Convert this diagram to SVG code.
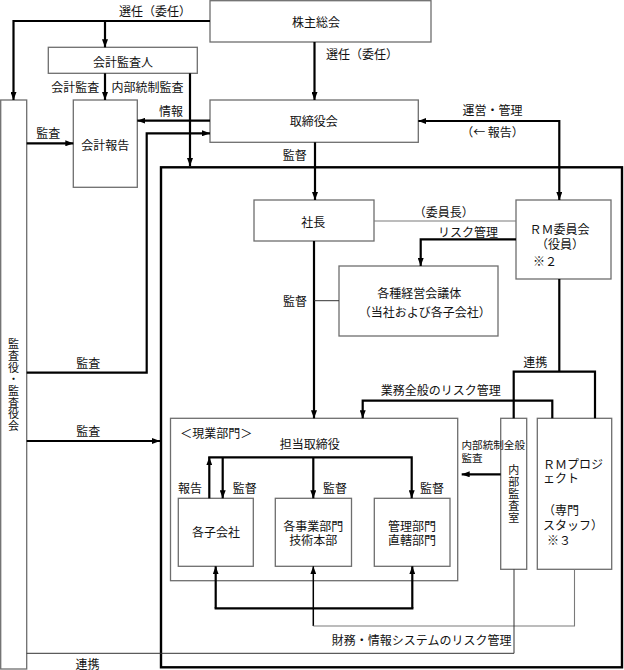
<svg xmlns="http://www.w3.org/2000/svg" width="624" height="670" viewBox="0 0 624 670">
<style>
text{font-family:"Noto Sans CJK JP","Noto Sans",sans-serif;font-size:12px;fill:#111;dominant-baseline:central}
.m{text-anchor:middle}
.s{text-anchor:start}
.v{writing-mode:vertical-rl;text-anchor:middle;font-size:11px}
.box{fill:#fff;stroke:#6e6e6e;stroke-width:1.3}
.cont{fill:none;stroke:#6e6e6e;stroke-width:1.3}
.frame{fill:none;stroke:#000;stroke-width:2.4}
.thick{fill:none;stroke:#000;stroke-width:2.2}
.thin{fill:none;stroke:#7a7a7a;stroke-width:1.1}
.thind{fill:none;stroke:#333;stroke-width:1}
</style>
<defs>
<marker id="ah" viewBox="0 0 8 6" refX="8" refY="3" markerWidth="8" markerHeight="6" markerUnits="userSpaceOnUse" orient="auto-start-reverse">
<path d="M0,0 L8,3 L0,6 z" fill="#000"/>
</marker>
</defs>
<rect width="624" height="670" fill="#fff"/>
<g id="frame"><rect class="frame" x="161" y="167.3" width="461" height="500"/></g>
<g id="n-kabunushi"><rect class="box" x="210" y="0.7" width="221" height="41.3"/><text class="m" x="316" y="21">株主総会</text></g>
<g id="n-kaikeikansanin"><rect class="box" x="48.3" y="47.3" width="149" height="26"/><text class="m" x="123" y="61">会計監査人</text></g>
<g id="n-kansayaku"><rect class="box" x="0.7" y="100" width="26" height="569"/>
<text class="v" x="13.5" y="385.3" style="letter-spacing:0.7px">監査役・監査役会</text></g>
<g id="n-kaikeihoukoku"><rect class="box" x="73.3" y="100" width="64" height="87.3"/><text class="m" x="105.3" y="144">会計報告</text></g>
<g id="n-torishimariyakukai"><rect class="box" x="210" y="100" width="208.3" height="42.3"/><text class="m" x="313.7" y="120.7">取締役会</text></g>
<g id="n-shachou"><rect class="box" x="254" y="200" width="120" height="41"/><text class="m" x="313.3" y="221">社長</text></g>
<g id="n-rm"><rect class="box" x="516" y="200" width="95" height="79"/><text class="m" x="559.5" y="228.3">ＲＭ委員会</text><text class="m" x="560" y="243.3">（役員）</text><text class="s" x="533" y="260.7">※２</text></g>
<g id="n-kaigitai"><rect class="box" x="339" y="266" width="159" height="70"/><text class="m" x="419.2" y="292.7">各種経営会議体</text><text class="m" x="424.7" y="311.7">（当社および各子会社）</text></g>
<g id="n-genbu"><rect class="cont" x="170.5" y="418.3" width="287.2" height="162.4"/><text class="m" x="216.2" y="432.7">＜現業部門＞</text><text class="m" x="309.7" y="443.3">担当取締役</text></g>
<g id="n-kogaisha"><rect class="box" x="178.3" y="498.3" width="75" height="68"/><text class="m" x="216" y="531">各子会社</text></g>
<g id="n-jigyoubu"><rect class="box" x="275.3" y="498.3" width="76.2" height="68"/><text class="m" x="313.3" y="525">各事業部門</text><text class="m" x="313.3" y="539.5">技術本部</text></g>
<g id="n-kanri"><rect class="box" x="374.3" y="498.3" width="75.7" height="68"/><text class="m" x="412" y="525">管理部門</text><text class="m" x="412" y="539.5">直轄部門</text></g>
<g id="n-naibukansa"><rect class="box" x="500.7" y="418.3" width="26" height="151"/>
<text class="v" x="513.7" y="494" style="letter-spacing:1px">内部監査室</text></g>
<g id="n-rmproject"><rect class="box" x="537.3" y="418.3" width="74.4" height="151"/>
<text class="s"><tspan x="543" y="462.5">ＲＭプロジ</tspan><tspan x="543" y="477.2">ェクト</tspan><tspan x="543" y="508.5">（専門</tspan><tspan x="543" y="523.5">スタッフ）</tspan><tspan x="547" y="538.5">※３</tspan></text></g>
<g id="connectors">
<path class="thick" d="M210,21 H13.5 V100" marker-end="url(#ah)"/>
<path class="thick" d="M105,21 V47.3" marker-end="url(#ah)"/>
<path class="thick" d="M314.5,42 V100" marker-end="url(#ah)"/>
<path class="thick" d="M105,73.3 V100" marker-end="url(#ah)"/>
<path class="thick" d="M190,73.3 V166" marker-end="url(#ah)"/>
<path class="thick" d="M210,120.7 H137.3" marker-end="url(#ah)"/>
<path class="thick" d="M26.7,143.3 H73.3" marker-end="url(#ah)"/>
<path class="thick" d="M26.7,372.7 H146.7 V133.3 H210" marker-end="url(#ah)"/>
<path class="thick" d="M26.7,441 H160" marker-end="url(#ah)"/>
<path class="thick" d="M418.3,121 H559.3 V200" marker-start="url(#ah)" marker-end="url(#ah)"/>
<path class="thick" d="M315,142.3 V200" marker-end="url(#ah)"/>
<path class="thick" d="M516,239.3 H420.7 V266" marker-end="url(#ah)"/>
<path class="thick" d="M314,241 V418.3" marker-end="url(#ah)"/>
<path class="thick" d="M559.3,279 V371.7"/>
<path class="thick" d="M513.7,418.3 V371.7 H595 V418.3"/>
<path class="thick" d="M552.3,418.3 V400.7 H362.7 V418.3" marker-end="url(#ah)"/>
<path class="thick" d="M500.7,474.3 H461.7" marker-end="url(#ah)"/>
<path class="thick" d="M209.3,498.3 V457.3" marker-end="url(#ah)"/>
<path class="thick" d="M208.2,457.3 H411.7 V498.3" marker-end="url(#ah)"/>
<path class="thick" d="M222.7,457.3 V498.3" marker-end="url(#ah)"/>
<path class="thick" d="M313.3,457.3 V498.3" marker-end="url(#ah)"/>
<path class="thick" d="M215.7,608.3 V566.3" marker-end="url(#ah)"/>
<path class="thick" d="M412.3,608.3 V566.3" marker-end="url(#ah)"/>
<path class="thick" d="M214.6,608.3 H413.4"/>
<path class="thick" style="stroke-width:1.5" d="M313.3,626 V566.3" marker-end="url(#ah)"/>
<path class="thin" d="M374,221 H516"/>
<path class="thind" d="M314,300.7 H339"/>
<path class="thin" d="M574.5,569.3 V626 H313.3"/>
<path class="thind" d="M514,569.3 V653.3 H26.7"/>
</g>
<g id="labels">
<text class="m" x="155" y="10">選任（委任）</text>
<text class="s" x="326" y="53.3">選任（委任）</text>
<text class="m" x="75.3" y="86.7">会計監査</text>
<text class="m" x="147.5" y="86.7">内部統制監査</text>
<text class="m" x="171" y="110.7">情報</text>
<text class="m" x="492.5" y="109.3">運営・管理</text>
<text class="m" x="492.5" y="131.7">（← 報告）</text>
<text class="m" x="48.3" y="132.7">監査</text>
<text class="m" x="294.7" y="154">監督</text>
<text class="m" x="443.8" y="211.7">（委員長）</text>
<text class="m" x="468" y="231">リスク管理</text>
<text class="m" x="295" y="300">監督</text>
<text class="m" x="88.3" y="362.7">監査</text>
<text class="m" x="535.3" y="361.7">連携</text>
<text class="m" x="440.8" y="389.3">業務全般のリスク管理</text>
<text class="m" x="88.3" y="430">監査</text>
<text class="s" style="font-size:10.6px"><tspan x="461.5" y="444">内部統制全般</tspan><tspan x="461.5" y="457">監査</tspan></text>
<text class="m" x="190" y="487.3">報告</text>
<text class="m" x="244.7" y="487.3">監督</text>
<text class="m" x="335" y="487.3">監督</text>
<text class="m" x="432" y="487.3">監督</text>
<text class="m" x="421.7" y="639.3">財務・情報システムのリスク管理</text>
<text class="m" x="87.5" y="663">連携</text>
</g>
</svg>
